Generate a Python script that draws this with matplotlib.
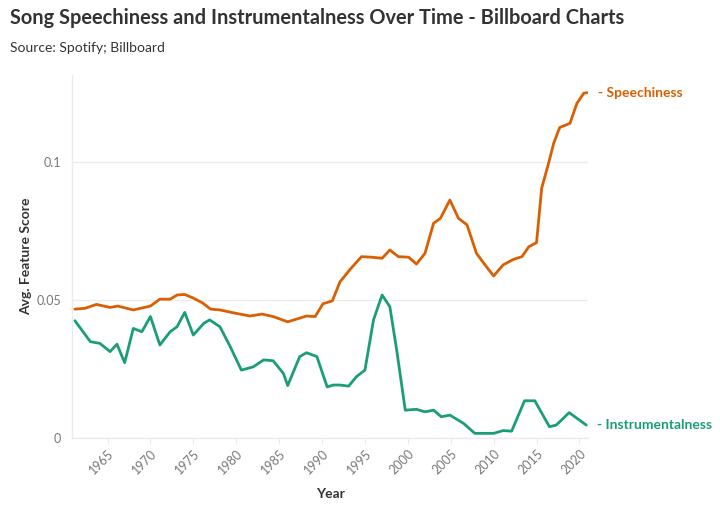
import numpy as np
import matplotlib
matplotlib.use("Agg")
import matplotlib.pyplot as plt

# ── data ──────────────────────────────────────────────────────────────────────
speech_years = [1961.2, 1962.4, 1963.7, 1965.3, 1966.2, 1968.0, 1970.0, 1971.1,
                1972.3, 1973.1, 1974.0, 1975.0, 1976.1, 1977.0, 1978.1, 1979.6,
                1981.6, 1983.0, 1984.3, 1986.0, 1988.2, 1989.2, 1990.1, 1991.2,
                1992.1, 1993.3, 1994.6, 1995.8, 1997.0, 1997.9, 1998.9, 2000.1,
                2001.0, 2002.0, 2003.0, 2003.8, 2004.9, 2005.9, 2006.9, 2008.0,
                2009.0, 2010.0, 2011.1, 2012.3, 2013.3, 2014.1, 2015.0, 2015.6,
                2016.4, 2017.0, 2017.7, 2018.9, 2019.7, 2020.5, 2020.9]
speechiness = [0.0467, 0.0470, 0.0484, 0.0473, 0.0478, 0.0464, 0.0478, 0.0503,
               0.0503, 0.0518, 0.0520, 0.0507, 0.0489, 0.0467, 0.0464, 0.0454,
               0.0442, 0.0449, 0.0440, 0.0421, 0.0442, 0.0440, 0.0486, 0.0497,
               0.0566, 0.0612, 0.0657, 0.0655, 0.0651, 0.0681, 0.0657, 0.0655,
               0.0630, 0.0669, 0.0778, 0.0796, 0.0862, 0.0796, 0.0772, 0.0669,
               0.0627, 0.0587, 0.0627, 0.0647, 0.0657, 0.0693, 0.0708, 0.0905,
               0.0995, 0.1068, 0.1125, 0.1140, 0.1212, 0.1249, 0.1251]

instr_years = [1961.2, 1963.0, 1964.1, 1965.3, 1966.1, 1967.0, 1968.0, 1969.0,
               1970.0, 1971.1, 1972.3, 1973.1, 1974.0, 1975.0, 1976.2, 1976.9,
               1978.1, 1979.3, 1980.6, 1982.0, 1983.2, 1984.3, 1985.5, 1986.0,
               1987.4, 1988.2, 1989.4, 1990.6, 1991.3, 1992.1, 1993.1, 1994.0,
               1995.0, 1996.0, 1997.0, 1997.9, 1998.7, 1999.7, 2001.0, 2002.0,
               2003.0, 2003.9, 2004.9, 2006.5, 2007.8, 2010.0, 2011.1, 2012.1,
               2013.6, 2014.8, 2016.5, 2017.3, 2018.8, 2020.8]
instrumentalness = [0.0425, 0.0349, 0.0343, 0.0313, 0.0340, 0.0273, 0.0397, 0.0385,
                    0.0440, 0.0337, 0.0385, 0.0403, 0.0455, 0.0373, 0.0415, 0.0428,
                    0.0403, 0.0331, 0.0246, 0.0258, 0.0283, 0.0280, 0.0234, 0.0190,
                    0.0295, 0.0309, 0.0295, 0.0185, 0.0192, 0.0192, 0.0188, 0.0222,
                    0.0246, 0.0428, 0.0518, 0.0476, 0.0319, 0.0101, 0.0104, 0.0095,
                    0.0101, 0.0077, 0.0083, 0.0053, 0.0017, 0.0017, 0.0027, 0.0025,
                    0.0135, 0.0135, 0.0041, 0.0047, 0.0092, 0.0047]

year_ticks = [1965, 1970, 1975, 1980, 1985, 1990, 1995, 2000, 2005, 2010, 2015, 2020]
score_ticks = [0, 0.05, 0.1]
score_labels = ['0', '0.05', '0.1']

ORANGE = '#D95F02'
GREEN = '#1B9E77'
GRID = '#EBEBEB'
TICK = '#777777'

plt.rcParams['font.family'] = ['Lato', 'DejaVu Sans']

fig = plt.figure(figsize=(7.2, 5.19), dpi=100)
ax = fig.add_axes([0.1, 0.156, 0.7167, 0.6995])

ax.plot(speech_years, speechiness, color=ORANGE, lw=2.0,
        solid_joinstyle='round', solid_capstyle='round', zorder=3)
ax.plot(instr_years, instrumentalness, color=GREEN, lw=2.0,
        solid_joinstyle='round', solid_capstyle='round', zorder=3)

ax.set_xlim(1960.86, 2021.0)
ax.set_ylim(0, 0.1315)

for s in ['top', 'right']:
    ax.spines[s].set_visible(False)
for s in ['left', 'bottom']:
    ax.spines[s].set_color(GRID)
    ax.spines[s].set_linewidth(1.0)

ax.set_yticks(score_ticks)
ax.set_yticklabels(score_labels)
ax.set_xticks(year_ticks)
ax.set_xticklabels([str(y) for y in year_ticks], rotation=45,
                   ha='right', va='top', rotation_mode='anchor')
ax.tick_params(axis='y', length=0, pad=8, labelsize=9, labelcolor=TICK)
ax.tick_params(axis='x', length=4, color=GRID, pad=3, labelsize=9,
               labelcolor=TICK)
ax.yaxis.grid(True, color=GRID, lw=1.0)
ax.set_axisbelow(True)

ax.set_xlabel('Year', fontsize=10, fontweight='bold', color='#333333',
              labelpad=8)
ax.set_ylabel('Avg. Feature Score', fontsize=10, fontweight='bold',
              color='#333333', labelpad=3)

# line end labels
for yrs, vals, name, col in [(speech_years, speechiness, 'Speechiness', ORANGE),
                             (instr_years, instrumentalness, 'Instrumentalness', GREEN)]:
    ax.annotate('- ' + name, xy=(yrs[-1], vals[-1]), xytext=(8, 0),
                textcoords='offset points', va='center', ha='left',
                fontsize=10, fontweight='bold', color=col, annotation_clip=False)

fig.text(0.014, 0.965, 'Song Speechiness and Instrumentalness Over Time - Billboard Charts',
         fontsize=14.4, fontweight='bold', color='#333333', va='center')
fig.text(0.014, 0.907, 'Source: Spotify; Billboard', fontsize=10,
         color='#333333', va='center')

fig.savefig('out.png', dpi=100, facecolor='white')
